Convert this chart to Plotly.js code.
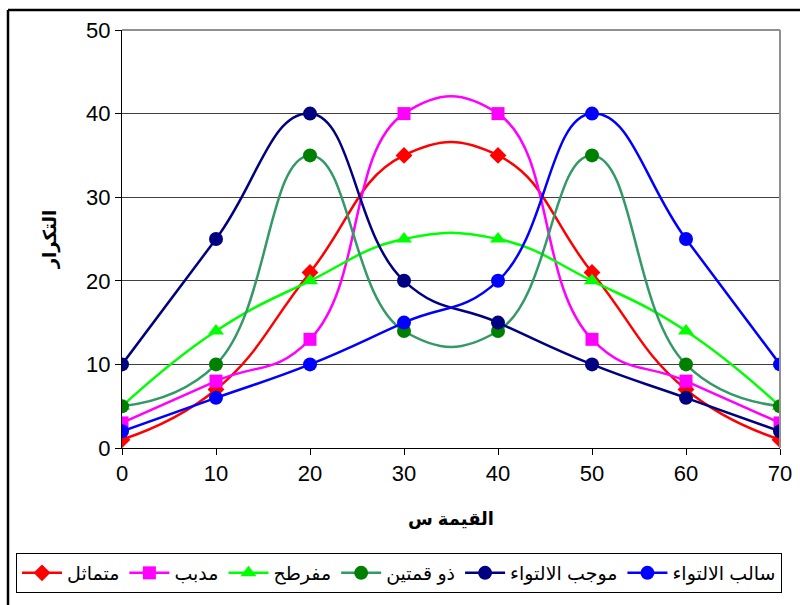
<!DOCTYPE html>
<html><head><meta charset="utf-8">
<script src="https://cdn.plot.ly/plotly-3.0.1.min.js"></script>
<style>body{margin:0;background:#fff}#c{width:800px;height:605px}</style>
</head><body><div id="c"></div>
<script>
const xVals = [0,10,20,30,40,50,60,70];
const names = ['متماثل','مدبب','مفرطح','ذو قمتين','موجب الالتواء','سالب الالتواء'];
const symmetric = [1,7,21,35,35,21,7,1];
const peaked = [3,8,13,40,40,13,8,3];
const flat = [5,14,20,25,25,20,14,5];
const bimodal = [5,10,35,14,14,35,10,5];
const posSkew = [10,25,40,20,15,10,6,2];
const negSkew = [2,6,10,15,20,40,25,10];
const yTicks = [0,10,20,30,40,50];
const xTitle = 'القيمة س';
const yTitle = 'التكرار';

const series = [symmetric, peaked, flat, bimodal, posSkew, negSkew];
const lineColors = ['#FF0000','#FF00FF','#00FF00','#339966','#000080','#0000FF'];
const markerColors = ['#FF0000','#FF00FF','#00FF00','#008000','#000080','#0000FF'];
const symbols = ['diamond','square','triangle-up','circle','circle','circle'];
const sizes = [13,13,14,14,14,14];

const traces = series.map((s,i)=>({
  x: xVals, y: s, name: names[i], type:'scatter', mode:'lines+markers',
  line:{color:lineColors[i], width:2.5, shape:'spline', smoothing:1.3},
  marker:{color:markerColors[i], symbol:symbols[i], size:sizes[i]}
}));

const L=122, R=780, T=30, B=448, W=658, H=418;
const px = v => (v-L)/W, py = v => (B-v)/H;
const font = 'Arial, "Liberation Sans", "DejaVu Sans", sans-serif';

const layout = {
  width:800, height:605,
  margin:{l:L, r:800-R, t:T, b:605-B},
  paper_bgcolor:'#fff', plot_bgcolor:'#fff',
  font:{family:font, color:'#000'},
  showlegend:true,
  xaxis:{range:[0,70], tickvals:xVals, ticks:'outside', ticklen:6, tickcolor:'#000',
    showline:true, linecolor:'#000', linewidth:1, showgrid:false, zeroline:false,
    tickfont:{size:22, family:font}, 
    title:{text:'<b>'+xTitle+'</b>', font:{size:18, family:font}, standoff:26}},
  yaxis:{range:[0,50], tickvals:yTicks, ticks:'outside', ticklen:6, tickcolor:'#000',
    showline:true, linecolor:'#000', linewidth:1, showgrid:true, gridcolor:'#404040', gridwidth:1,
    zeroline:false, tickfont:{size:22, family:font},
    title:{text:'<b>'+yTitle+'</b>', font:{size:18, family:font}, standoff:24}},
  legend:{orientation:'h', x:px(16), xanchor:'left', y:py(553), yanchor:'top',
    bordercolor:'#000', borderwidth:1, bgcolor:'#fff',
    font:{size:19, family:font}, itemwidth:40, traceorder:'normal'},
  shapes:[
    {type:'line', xref:'paper', yref:'paper', x0:0, x1:1, y0:1, y1:1, line:{color:'#909090', width:2}, layer:'above'},
    {type:'line', xref:'paper', yref:'paper', x0:1, x1:1, y0:0, y1:1, line:{color:'#909090', width:2}, layer:'above'},
    {type:'line', xref:'paper', yref:'paper', x0:px(8), x1:px(800), y0:py(10), y1:py(10), line:{color:'#000', width:2.5}},
    {type:'line', xref:'paper', yref:'paper', x0:px(8), x1:px(8), y0:py(10), y1:py(605), line:{color:'#000', width:2.5}}
  ]
};
Plotly.newPlot('c', traces, layout, {displayModeBar:false, staticPlot:true});
</script></body></html>
